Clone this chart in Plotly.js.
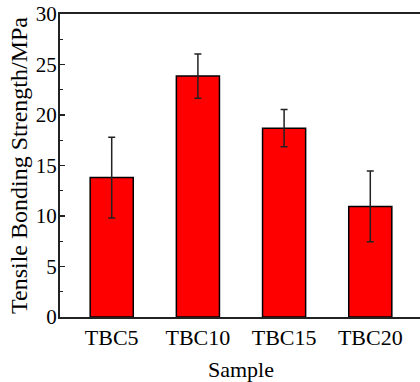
<!DOCTYPE html>
<html>
<head>
<meta charset="utf-8">
<script src="https://cdn.plot.ly/plotly-3.0.1.min.js"></script>
<style>
html,body{margin:0;padding:0;overflow:hidden;background:#fff;}
#chart{width:424px;height:382px;}
</style>
</head>
<body>
<div id="chart"></div>
<script>
const categories = ["TBC5", "TBC10", "TBC15", "TBC20"];
const strength = [13.8, 23.85, 18.7, 10.95];
const errors = [4.0, 2.2, 1.85, 3.5];
const yTicks = [0, 5, 10, 15, 20, 25, 30];

const font = "Liberation Serif";

Plotly.newPlot("chart", [{
  type: "bar",
  x: categories,
  y: strength,
  marker: {color: "#ff0000", line: {color: "#000000", width: 1.5}},
  error_y: {type: "data", array: errors, visible: true, color: "#222222", thickness: 1.5, width: 3.5},
  width: 0.5
}], {
  width: 424,
  height: 382,
  margin: {l: 60, r: 2, t: 14, b: 65},
  paper_bgcolor: "#ffffff",
  plot_bgcolor: "#ffffff",
  showlegend: false,
  font: {family: font, size: 22, color: "#000"},
  xaxis: {
    type: "category",
    range: [-0.6, 3.6],
    showline: true, linecolor: "#222", linewidth: 2, mirror: true,
    ticks: "", showgrid: false, zeroline: false,
    tickfont: {family: font, size: 22, color: "#000"},
    title: {text: "Sample", font: {family: font, size: 22, color: "#000"}, standoff: 13}
  },
  yaxis: {
    range: [0, 30],
    tickvals: yTicks,
    showline: true, linecolor: "#222", linewidth: 2, mirror: true,
    ticks: "inside", ticklen: 5, tickwidth: 1.2, tickcolor: "#222",
    minor: {dtick: 2.5, ticks: "inside", ticklen: 3, tickwidth: 1, tickcolor: "#222", showgrid: false},
    showgrid: false, zeroline: false,
    ticklabelstandoff: -3,
    tickfont: {family: font, size: 21, color: "#000"},
    title: {text: "Tensile Bonding Strength/MPa", font: {family: font, size: 24, color: "#000"}, standoff: 1}
  }
}, {displayModeBar: false, staticPlot: true});
</script>
</body>
</html>
